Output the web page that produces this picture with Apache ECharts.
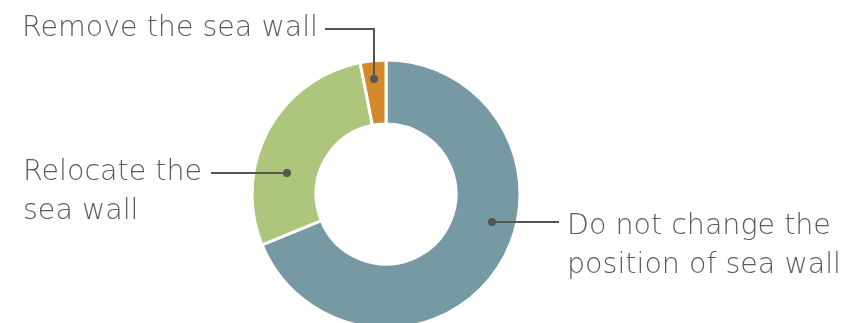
<!DOCTYPE html>
<html>
<head>
<meta charset="utf-8">
<script src="https://cdn.jsdelivr.net/npm/echarts@6/dist/echarts.min.js"></script>
<style>html,body{margin:0;padding:0;background:#fff}#c{width:842px;height:323px}</style>
</head>
<body>
<div id="c"></div>
<script>
const categories = ['Do not change the position of sea wall', 'Relocate the sea wall', 'Remove the sea wall'];
const labelTexts = ['Do not change the\nposition of sea wall', 'Relocate the\nsea wall', 'Remove the sea wall'];
const values = [68.8, 28.1, 3.1];
const colors = ['#7699a3', '#adc67b', '#d5892d'];

// label layout (pixels): text anchor and leader line path (dot first)
const labelPlacement = [
  { x: 567, y: 207, align: 'left', line: [[492, 222], [525, 222], [559, 222]] },
  { x: 23, y: 153, align: 'left', line: [[287, 173], [249, 173], [211, 173]] },
  { x: 318, y: 9, align: 'right', line: [[374, 79], [374, 29], [325, 29]] }
];

const chart = echarts.init(document.getElementById('c'), null, { renderer: 'canvas' });
chart.setOption({
  animation: false,
  series: [{
    type: 'pie',
    center: [386, 194],
    radius: [70, 134],
    startAngle: 90,
    clockwise: true,
    data: categories.map((n, i) => ({ name: n, value: values[i], itemStyle: { color: colors[i] } })),
    itemStyle: { borderColor: '#fff', borderWidth: 3 },
    label: {
      show: true,
      formatter: p => labelTexts[p.dataIndex],
      fontFamily: '"DejaVu Sans", sans-serif',
      fontWeight: 200,
      fontSize: 28.5,
      lineHeight: 39,
      color: '#5c5c5c'
    },
    labelLine: { show: false },
    labelLayout: function (params) {
      const l = labelPlacement[params.dataIndex];
      return { x: l.x, y: l.y, align: l.align, verticalAlign: 'top' };
    },
    emphasis: { disabled: true }
  }],
  graphic: labelPlacement.map(l => ({
    type: 'polyline',
    shape: { points: l.line },
    style: { stroke: '#555', lineWidth: 2, fill: null },
    z: 100
  })).concat(labelPlacement.map(l => ({
    type: 'circle',
    shape: { cx: l.line[0][0], cy: l.line[0][1], r: 4 },
    style: { fill: '#555' },
    z: 101
  })))
});
</script>
</body>
</html>
